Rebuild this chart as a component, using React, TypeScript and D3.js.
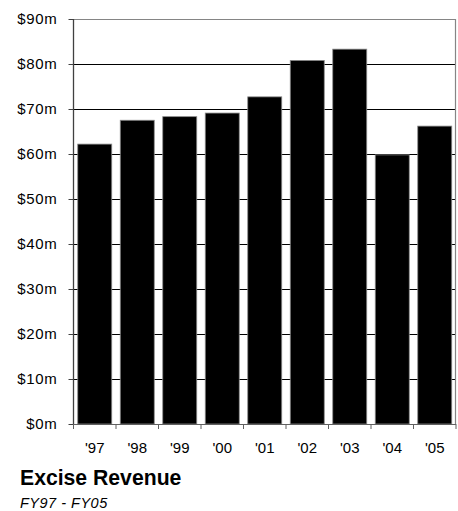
import React from "react";
import * as d3 from "d3";

const years = ["'97", "'98", "'99", "'00", "'01", "'02", "'03", "'04", "'05"];
const revenue = [62.2, 67.5, 68.3, 69.1, 72.7, 80.8, 83.3, 59.8, 66.2];
const yTicks = [0, 10, 20, 30, 40, 50, 60, 70, 80, 90];
const yTickLabels = ["$0m", "$10m", "$20m", "$30m", "$40m", "$50m", "$60m", "$70m", "$80m", "$90m"];
const title = "Excise Revenue";
const subtitle = "FY97 - FY05";

const W = 458;
const H = 511;
const left = 73.5;
const right = 456;
const top = 19;
const bottom = 424;

export default function App() {
  const x = d3.scaleBand<string>().domain(years).range([left, right]).paddingInner(0.2).paddingOuter(0.1);
  const y = d3.scaleLinear().domain([0, 90]).range([bottom, top]);
  const step = x.step();
  const font = "'Liberation Sans', Arial, sans-serif";

  return (
    <svg
      width={W}
      height={H}
      style={{ position: "absolute", left: 0, top: 0, background: "#fff" }}
      fontFamily={font}
    >
      {/* horizontal gridlines */}
      {yTicks.slice(1, -1).map((t) => (
        <line key={t} x1={left} x2={right} y1={Math.round(y(t)) + 0.5} y2={Math.round(y(t)) + 0.5} stroke="#000" strokeWidth={1} />
      ))}
      {/* frame: top and right */}
      <line x1={left} x2={right} y1={top + 0.5} y2={top + 0.5} stroke="#858585" strokeWidth={1.2} />
      <line x1={right - 0.5} x2={right - 0.5} y1={top} y2={bottom} stroke="#858585" strokeWidth={1.2} />

      {/* bars */}
      {years.map((yr, i) => (
        <rect
          key={yr}
          x={x(yr)!}
          y={y(revenue[i])}
          width={x.bandwidth()}
          height={bottom - y(revenue[i])}
          fill="#000"
          stroke="#8a8a8a"
          strokeWidth={0.8}
        />
      ))}

      {/* y axis */}
      <line x1={left} x2={left} y1={top} y2={bottom} stroke="#404040" strokeWidth={1.3} />
      {yTicks.map((t, i) => (
        <g key={t}>
          <line x1={left - 5} x2={left} y1={Math.round(y(t)) + 0.5} y2={Math.round(y(t)) + 0.5} stroke="#404040" strokeWidth={1} />
          <text x={57.5} y={y(t) + 5.3} textAnchor="end" fontSize={15} letterSpacing={0.7} fill="#000">
            {yTickLabels[i]}
          </text>
        </g>
      ))}

      {/* x axis with ticks at category boundaries */}
      <line x1={left} x2={right} y1={bottom + 0.5} y2={bottom + 0.5} stroke="#606060" strokeWidth={1} />
      {d3.range(years.length + 1).map((k) => {
        const xx = left + k * step;
        return <line key={k} x1={xx} x2={xx} y1={bottom} y2={bottom + 5} stroke="#606060" strokeWidth={1} />;
      })}
      {years.map((yr) => (
        <text key={yr} x={x(yr)! + x.bandwidth() / 2} y={453} textAnchor="middle" fontSize={15} fill="#000">
          {yr}
        </text>
      ))}

      {/* caption */}
      <text x={20} y={485} fontSize={21.2} fontWeight="bold" fill="#000">
        {title}
      </text>
      <text x={20} y={508} fontSize={14.5} fontStyle="italic" letterSpacing={0.5} fill="#000">
        {subtitle}
      </text>
    </svg>
  );
}
